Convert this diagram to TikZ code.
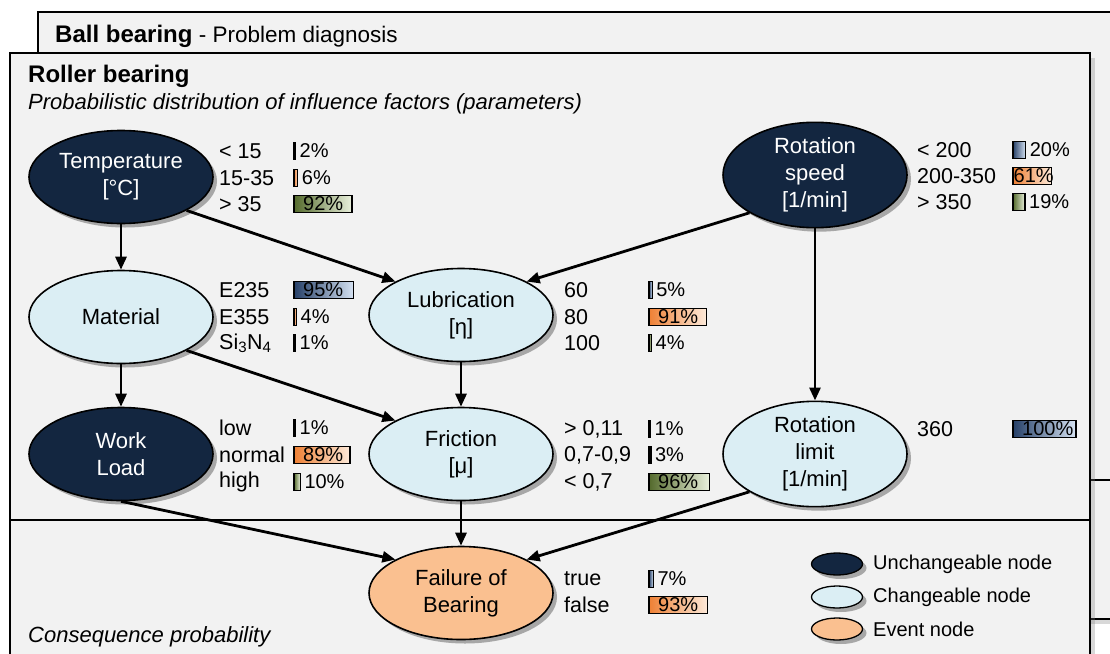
\documentclass[tikz,border=0pt]{standalone}
\usepackage{fontspec}
\setmainfont{Liberation Sans}
\usetikzlibrary{shapes.geometric,arrows.meta,shadows}

\definecolor{navy}{RGB}{19,38,64}
\definecolor{paleblue}{RGB}{219,238,244}
\definecolor{peach}{RGB}{250,192,144}
\definecolor{panel}{RGB}{242,242,242}
\definecolor{bluedk}{RGB}{38,64,104}
\definecolor{bluelt}{RGB}{214,227,243}
\definecolor{orangedk}{RGB}{238,128,52}
\definecolor{orangelt}{RGB}{253,234,218}
\definecolor{greendk}{RGB}{84,106,44}
\definecolor{greenlt}{RGB}{234,241,221}

\tikzset{
  bnode/.style={ellipse, draw=black, line width=1.6pt, minimum width=184pt, minimum height=93pt,
    inner sep=0pt, align=center, font=\fontsize{22}{27}\selectfont,
    drop shadow={shadow xshift=4pt, shadow yshift=-4pt, opacity=0.45, fill=black!70}},
  fixed/.style={bnode, fill=navy, text=white},
  free/.style={bnode, fill=paleblue},
  event/.style={bnode, fill=peach},
  legend/.style={minimum width=51pt, minimum height=22pt, line width=1.3pt},
  link/.style={line width=2.8pt, -{Triangle[length=13pt,width=11pt]}},
  panelbox/.style={draw=black, line width=1.6pt, fill=panel,
    drop shadow={shadow xshift=5pt, shadow yshift=-5pt, opacity=0.3}},
  title/.style={anchor=west, inner sep=0pt, font=\fontsize{24}{28}\selectfont\bfseries},
  note/.style={anchor=west, inner sep=0pt, font=\fontsize{22}{26}\selectfont\itshape},
  state/.style={anchor=west, inner sep=0pt, font=\fontsize{21.5}{26}\selectfont},
  pct/.style={anchor=west, inner sep=0pt, font=\fontsize{20}{24}\selectfont},
  legtext/.style={anchor=west, inner sep=0pt, font=\fontsize{20}{24}\selectfont},
  bar/.style={draw=black, line width=1.2pt}
}

% #1 name, #2 label x, #3 bar x, #4 list label/percent/colour/y
\newcommand{\staterows}[4]{%
  \foreach \lab/\p/\clr/\y [count=\i] in {#4} {
    \pgfmathsetmacro\barw{max(0.63*\p,1.5)}
    \pgfmathsetmacro\tx{\p<50 ? #3+\barw+4 : min(#3+9,#3+\barw-38)}
    \node[state] (#1-s\i) at (#2,\y) {\lab};
    \draw[bar, left color=\clr dk, right color=\clr lt] (#3,\y-8.5) rectangle ++(\barw,17);
    \node[pct] (#1-p\i) at (\tx,\y) {\p\%};
  }}

\begin{document}
\begin{tikzpicture}[x=1pt, y=-1pt]
  \useasboundingbox (0,0) rectangle (1110,653);
  \clip (0,0) rectangle (1110,653);
  \fill[white] (0,0) rectangle (1110,653);

  \draw[panelbox] (38,12) rectangle (1130,480);
  \draw[panelbox] (38,480) rectangle (1130,619);
  \draw[panelbox] (10,53) rectangle (1090,520);
  \draw[panelbox] (10,520) rectangle (1090,670);

  \node[title] (balltitle) at (55,36) {Ball bearing\fontsize{22.5}{26}\selectfont\mdseries{} - Problem diagnosis};
  \node[title] (rollertitle) at (28,76) {Roller bearing};
  \node[note] (paramnote) at (28,104) {Probabilistic distribution of influence factors (parameters)};
  \node[note] (consnote) at (28,637) {Consequence probability};

  \node[fixed] (temp) at (121,177) {Temperature\\{[°C]}};
  \node[free] (mat) at (121,317) {Material};
  \node[fixed] (load) at (121,454) {Work\\Load};
  \node[free] (lub) at (461,315) {Lubrication\\{[η]}};
  \node[free] (fric) at (461,454) {Friction\\{[μ]}};
  \node[event] (fail) at (461,593) {Failure of\\Bearing};
  \node[fixed] (rspeed) at (815,175) {Rotation\\speed\\{[1/min]}};
  \node[free] (rlimit) at (815,454) {Rotation\\limit\\{[1/min]}};

  \draw[link] (temp) -- (mat);
  \draw[link] (temp.south east) -- (lub.north west);
  \draw[link] (rspeed.south west) -- (lub.north east);
  \draw[link] (rspeed) -- (rlimit);
  \draw[link] (mat) -- (load);
  \draw[link] (mat.south east) -- (fric.north west);
  \draw[link] (lub) -- (fric);
  \draw[link] (load.south) -- (fail.north west);
  \draw[link] (fric) -- (fail);
  \draw[link] (rlimit.south west) -- (fail.north east);

  \staterows{temp}{219}{294}{{< 15}/2/blue/151, 15-35/6/orange/178, {> 35}/92/green/204}
  \staterows{mat}{219}{294}{E235/95/blue/290, E355/4/orange/317, {Si\textsubscript{3}N\textsubscript{4}}/1/green/343}
  \staterows{load}{219}{294}{low/1/blue/428, normal/89/orange/455, high/10/green/482}
  \staterows{lub}{564}{649}{60/5/blue/290, 80/91/orange/317, 100/4/green/343}
  \staterows{fric}{564}{649}{{> 0,11}/1/blue/429, {0,7-0,9}/3/orange/455, {< 0,7}/96/green/482}
  \staterows{fail}{564}{649}{true/7/blue/579, false/93/orange/605}
  \staterows{rspeed}{917}{1013}{{< 200}/20/blue/150, 200-350/61/orange/176, {> 350}/19/green/202}
  \staterows{rlimit}{917}{1013}{360/100/blue/429}

  \node[fixed, legend] (legfixed) at (837,564) {};
  \node[free, legend] (legfree) at (837,597) {};
  \node[event, legend] (legevent) at (837,629) {};
  \node[legtext] (legfixed-t) at (873,564) {Unchangeable node};
  \node[legtext] (legfree-t) at (873,597) {Changeable node};
  \node[legtext] (legevent-t) at (873,629) {Event node};
\end{tikzpicture}
\end{document}
